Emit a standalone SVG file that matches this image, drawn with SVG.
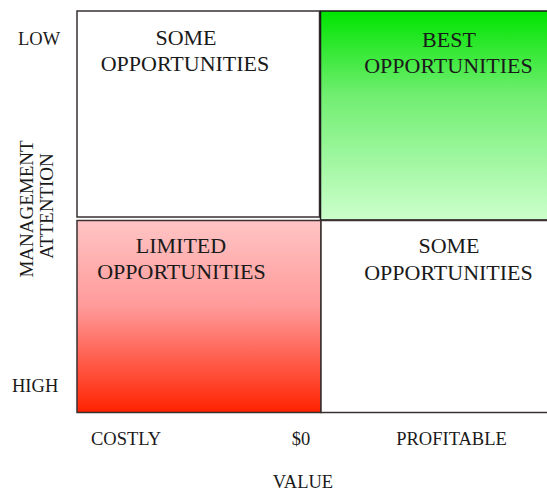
<svg xmlns="http://www.w3.org/2000/svg" width="547" height="491" viewBox="0 0 547 491">
<defs>
<linearGradient id="gGreen" x1="0" y1="0" x2="0" y2="1">
<stop offset="0" stop-color="#00e400"/>
<stop offset="0.4" stop-color="#70ee70"/>
<stop offset="1" stop-color="#ccffcc"/>
</linearGradient>
<linearGradient id="gRed" x1="0" y1="0" x2="0" y2="1">
<stop offset="0" stop-color="#ffc4c4"/>
<stop offset="0.45" stop-color="#ff9a9a"/>
<stop offset="1" stop-color="#ff2200"/>
</linearGradient>
</defs>
<style>
text{font-family:"Liberation Serif","Times New Roman",serif;fill:#1a1a1a;}
.q{font-size:22px;text-anchor:middle;}
.a{font-size:18.5px;}
.box{stroke:#3a3030;stroke-width:1.5;}
</style>
<rect width="547" height="491" fill="#ffffff"/>
<g id="q-some-top">
<rect class="box" x="77" y="11" width="242.5" height="206" fill="#ffffff"/>
<text class="q" x="186" y="45">SOME</text>
<text class="q" x="185" y="70.5">OPPORTUNITIES</text>
</g>
<g id="q-best">
<rect x="320.5" y="11" width="230" height="209" fill="url(#gGreen)" stroke="#1a1a1a" stroke-width="1.5"/>
<text class="q" x="449" y="47">BEST</text>
<text class="q" x="448.5" y="73">OPPORTUNITIES</text>
</g>
<g id="q-limited">
<rect class="box" x="77" y="220.5" width="244" height="192" fill="url(#gRed)"/>
<text class="q" x="181" y="253">LIMITED</text>
<text class="q" x="181.5" y="279">OPPORTUNITIES</text>
</g>
<g id="q-some-bottom">
<rect class="box" x="321" y="220.5" width="230" height="192" fill="#ffffff"/>
<text class="q" x="449" y="253">SOME</text>
<text class="q" x="448.5" y="280">OPPORTUNITIES</text>
</g>
<g id="axes">
<text class="a" x="18" y="45">LOW</text>
<text class="a" x="12" y="392">HIGH</text>
<text class="a" text-anchor="middle" transform="translate(33,209) rotate(-90)" style="font-size:19px">MANAGEMENT</text>
<text class="a" text-anchor="middle" transform="translate(53,206) rotate(-90)" style="font-size:19px">ATTENTION</text>
<text class="a" x="91" y="445">COSTLY</text>
<text class="a" x="301" y="445" text-anchor="middle">$0</text>
<text class="a" x="451.5" y="445" text-anchor="middle">PROFITABLE</text>
<text class="a" x="303" y="488" text-anchor="middle">VALUE</text>
</g>
</svg>
